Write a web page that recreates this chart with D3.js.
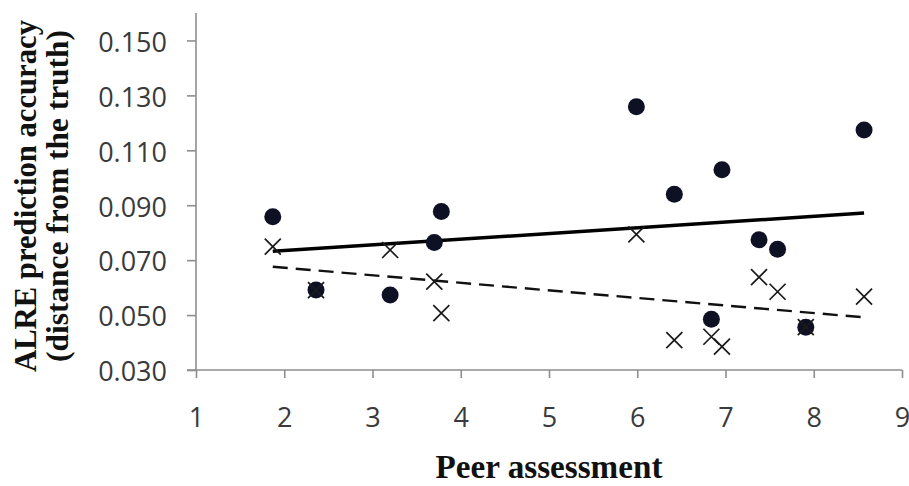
<!DOCTYPE html>
<html>
<head>
<meta charset="utf-8">
<script src="https://cdn.jsdelivr.net/npm/d3@7"></script>
<style>
  html, body { margin: 0; padding: 0; background: #fff; }
  svg { display: block; }
</style>
</head>
<body>
<svg id="chart" width="909" height="486"></svg>
<script>
// ---- data ----
const peerAssessment = [1.87, 2.36, 3.20, 3.70, 3.78, 5.99, 6.42, 6.84, 6.96, 7.38, 7.59, 7.91, 8.57];
const seriesCircle   = [0.0858, 0.0591, 0.0573, 0.0764, 0.0877, 0.1259, 0.0940, 0.0485, 0.1029, 0.0774, 0.0740, 0.0456, 0.1174];
const seriesCross    = [0.0749, 0.0591, 0.0737, 0.0622, 0.0507, 0.0794, 0.0409, 0.0421, 0.0385, 0.0638, 0.0585, 0.0456, 0.0567];
const xTicks = [1, 2, 3, 4, 5, 6, 7, 8, 9];
const yTicks = [0.030, 0.050, 0.070, 0.090, 0.110, 0.130, 0.150];
const xTitle = "Peer assessment";
const yTitle1 = "ALRE prediction accuracy";
const yTitle2 = "(distance from the truth)";

// ---- layout ----
const svg = d3.select("#chart");
const x = d3.scaleLinear().domain([1, 9]).range([196, 902]);
const y = d3.scaleLinear().domain([0.03, 0.16]).range([370, 13]);

const axisColor = "#8e8e8e";
const tickFont = "'Open Sans', 'Liberation Sans', sans-serif";
const titleFont = "'Liberation Serif', 'DejaVu Serif', serif";

// y axis
const yAxis = svg.append("g").attr("transform", `translate(${x(1)},0)`)
  .call(d3.axisLeft(y).tickValues(yTicks).tickSize(9).tickPadding(20).tickFormat(d3.format(".3f")));
yAxis.select(".domain").attr("d", `M0,${y(0.16)}V${y(0.03)}`);
// x axis
const xAxis = svg.append("g").attr("transform", `translate(0,${y(0.03)})`)
  .call(d3.axisBottom(x).tickValues(xTicks).tickSize(8).tickPadding(30).tickFormat(d3.format("d")));
xAxis.select(".domain").attr("d", `M${x(1) - 9},0H${x(9)}`);

[yAxis, xAxis].forEach(g => {
  g.select(".domain").attr("stroke", axisColor).attr("stroke-width", 1.6);
  g.selectAll(".tick line").attr("stroke", axisColor).attr("stroke-width", 1.6);
  g.selectAll(".tick text").attr("fill", "#3a3a3a").style("font-family", tickFont).style("font-size", "27px");
});
yAxis.selectAll(".tick text").attr("dy", "0.4em");
xAxis.selectAll(".tick text").attr("dy", "0.71em");

// regression lines
function regression(xs, ys) {
  const mx = d3.mean(xs), my = d3.mean(ys);
  const sxy = d3.sum(xs, (v, i) => (v - mx) * (ys[i] - my));
  const sxx = d3.sum(xs, v => (v - mx) * (v - mx));
  const b = sxy / sxx;
  return v => my + b * (v - mx);
}
const xr = d3.extent(peerAssessment);
const fC = regression(peerAssessment, seriesCircle);
const fX = regression(peerAssessment, seriesCross);
const line = d3.line().x(d => x(d[0])).y(d => y(d[1]));

svg.append("path").datum(xr.map(v => [v, fC(v)]))
  .attr("d", line).attr("fill", "none").attr("stroke", "#000").attr("stroke-width", 3.5);
svg.append("path").datum(xr.map(v => [v, fX(v)]))
  .attr("d", line).attr("fill", "none").attr("stroke", "#111").attr("stroke-width", 2.4)
  .attr("stroke-dasharray", "15,8");

// circle markers
svg.append("g").selectAll("circle").data(peerAssessment).join("circle")
  .attr("cx", d => x(d)).attr("cy", (d, i) => y(seriesCircle[i]))
  .attr("r", 8.5).attr("fill", "#0e1124");

// cross markers
const s = 8;
svg.append("g").selectAll("path").data(peerAssessment).join("path")
  .attr("transform", (d, i) => `translate(${x(d)},${y(seriesCross[i])})`)
  .attr("d", `M${-s},${-s}L${s},${s}M${-s},${s}L${s},${-s}`)
  .attr("stroke", "#1a1a1a").attr("stroke-width", 1.7).attr("fill", "none");

// titles
function fitText(sel, target) {
  const len = sel.node().getComputedTextLength();
  const fs = parseFloat(sel.style("font-size"));
  sel.style("font-size", (fs * target / len) + "px");
}
const t1 = svg.append("text").text(yTitle1)
  .attr("transform", "translate(36,196) rotate(-90)")
  .attr("text-anchor", "middle").attr("fill", "#111")
  .style("font-family", titleFont).style("font-weight", "bold").style("font-size", "28px");
fitText(t1, 352);
const t2 = svg.append("text").text(yTitle2)
  .attr("transform", "translate(68,196) rotate(-90)")
  .attr("text-anchor", "middle").attr("fill", "#111")
  .style("font-family", titleFont).style("font-weight", "bold").style("font-size", "28px");
fitText(t2, 332);
const t3 = svg.append("text").text(xTitle)
  .attr("x", (x(1) + x(9)) / 2).attr("y", 478)
  .attr("text-anchor", "middle").attr("fill", "#111")
  .style("font-family", titleFont).style("font-weight", "bold").style("font-size", "30px");
fitText(t3, 227);
</script>
</body>
</html>
